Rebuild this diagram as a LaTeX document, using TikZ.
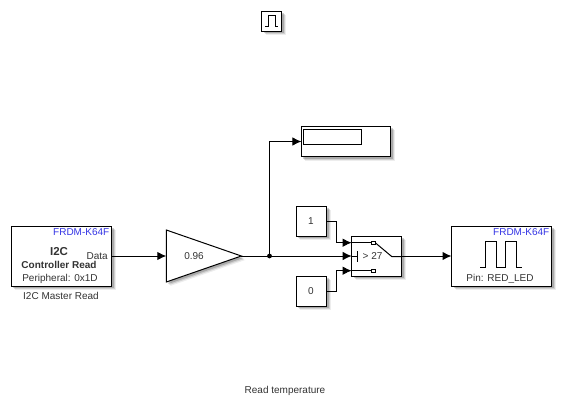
\documentclass[tikz,border=0pt]{standalone}
\usepackage{fontspec}
\setmainfont{Liberation Sans}
\usetikzlibrary{arrows.meta,shadows,shapes.geometric}
\definecolor{txtgray}{gray}{0.2}
\definecolor{mathblue}{rgb}{0.2,0.2,0.9}
\tikzset{
  softshadow/.style={general shadow={shadow xshift=4pt,shadow yshift=-4pt,fill=black,opacity=.07},
                     general shadow={shadow xshift=3pt,shadow yshift=-3pt,fill=black,opacity=.12},
                     general shadow={shadow xshift=2pt,shadow yshift=-2pt,fill=black,opacity=.18}},
  blockbox/.style={draw=black,line width=1pt,fill=white,rectangle,inner sep=0pt,outer sep=0pt,softshadow},
  gainbox/.style={draw=black,line width=1pt,fill=white,isosceles triangle,isosceles triangle stretches,
     shape border rotate=0,inner sep=0pt,outer sep=0pt,minimum width=52pt,minimum height=75pt,softshadow},
  wire/.style={line width=1pt,draw=black},
  sig/.style={wire,-{Latex[length=9pt,width=8.5pt]}},
  lbl/.style={font=\fontsize{10}{11}\selectfont,text=txtgray,inner sep=0pt},
  boldlbl/.style={font=\fontsize{10}{11}\selectfont\bfseries,text=txtgray,inner sep=0pt},
  bigbold/.style={font=\fontsize{11.5}{13}\selectfont\bfseries,text=txtgray,inner sep=0pt},
  bluelbl/.style={font=\fontsize{10}{11}\selectfont,text=mathblue,inner sep=0pt},
  icon/.style={line width=1pt,draw=black},
  port/.style={draw=black,line width=.8pt,fill=white,rectangle,inner sep=0pt,outer sep=0pt,minimum width=3.4pt,minimum height=3.4pt}
}
\begin{document}
\begin{tikzpicture}[x=1pt,y=-1pt]
\useasboundingbox (0,0) rectangle (562,409);
% blocks
\node[blockbox,minimum width=20pt,minimum height=20pt] (pulse) at (271.5,21.5) {};
\node[blockbox,minimum width=89.5pt,minimum height=30pt] (disp) at (346.2,141.5) {};
\node[draw=black,line width=1pt,fill=white,rectangle,inner sep=0pt,minimum width=57.5pt,minimum height=15pt] (dispin) at (332.7,137) {};
\node[blockbox,minimum width=100.5pt,minimum height=60pt] (i2c) at (61.7,256) {};
\node[gainbox,anchor=lower side] (gain) at (166.3,256) {};
\node[blockbox,minimum width=30.5pt,minimum height=30pt] (one) at (311.7,221) {};
\node[blockbox,minimum width=30.5pt,minimum height=30pt] (zero) at (311.7,291) {};
\node[blockbox,minimum width=50pt,minimum height=40pt] (switch) at (376.7,256) {};
\node[blockbox,minimum width=100pt,minimum height=60pt] (led) at (501.5,256) {};
% icons
\draw[icon] (265,26.7) -- (268.3,26.7) -- (268.3,16) -- (275,16) -- (275,26.7) -- (278,26.7);
\draw[icon] (480,267.3) -- (485.7,267.3) -- (485.7,241) -- (496,241) -- (496,267.3) -- (505,267.3) -- (505,241) -- (516.7,241) -- (516.7,267.3) -- (521.7,267.3);
% switch internals
\node[port] (pa) at (373.5,242.7) {};
\node[port] (pb) at (373.5,270.7) {};
\coordinate (pivot) at (391.7,256.5);
\draw[wire] (351.7,242.7) -- (pa.west);
\draw[wire] (351.7,270.7) -- (pb.west);
\draw[wire] (pa.east) -- (pivot) -- (401.7,256.5);
\draw[wire] (351.7,256) -- (357.7,256);
\draw[wire] (357.7,251) -- (357.7,262);
\node[lbl,anchor=west] (thr) at (362.5,256.5) {> 27};
% labels
\node[bluelbl,anchor=east] (t1) at (109.5,232.5) {FRDM-K64F};
\node[bigbold] (t2) at (59,252) {I2C};
\node[boldlbl] (t3) at (59,264.8) {Controller Read};
\node[lbl] (t4) at (60,279) {Peripheral: 0x1D};
\node[lbl,anchor=east] (t5) at (108,256.5) {Data};
\node[lbl] (t6) at (61,296) {I2C Master Read};
\node[lbl] (t7) at (194,256) {0.96};
\node[lbl] (t8) at (311,221) {1};
\node[lbl] (t9) at (311,291) {0};
\node[bluelbl,anchor=east] (t10) at (549.5,232.5) {FRDM-K64F};
\node[lbl] (t11) at (500,279) {Pin: RED\_LED};
\node[lbl] (t12) at (285,390.5) {Read temperature};
% connectors
\fill (269.5,256) circle (2.4pt) coordinate (junc);
\coordinate (sw1) at (351.7,242.7);
\coordinate (sw2) at (351.7,256);
\coordinate (sw3) at (351.7,270.7);
\draw[sig] (i2c.east) -- (gain.lower side);
\draw[wire] (gain.apex) -- (junc);
\draw[sig] (junc) -- (sw2);
\draw[sig] (junc) |- (disp.west);
\draw[sig] (one.east) -- (336,221) -- (336,242.7) -- (sw1);
\draw[sig] (zero.east) -- (336,291) -- (336,270.7) -- (sw3);
\draw[sig] (switch.east) -- (led.west);
\end{tikzpicture}
\end{document}
